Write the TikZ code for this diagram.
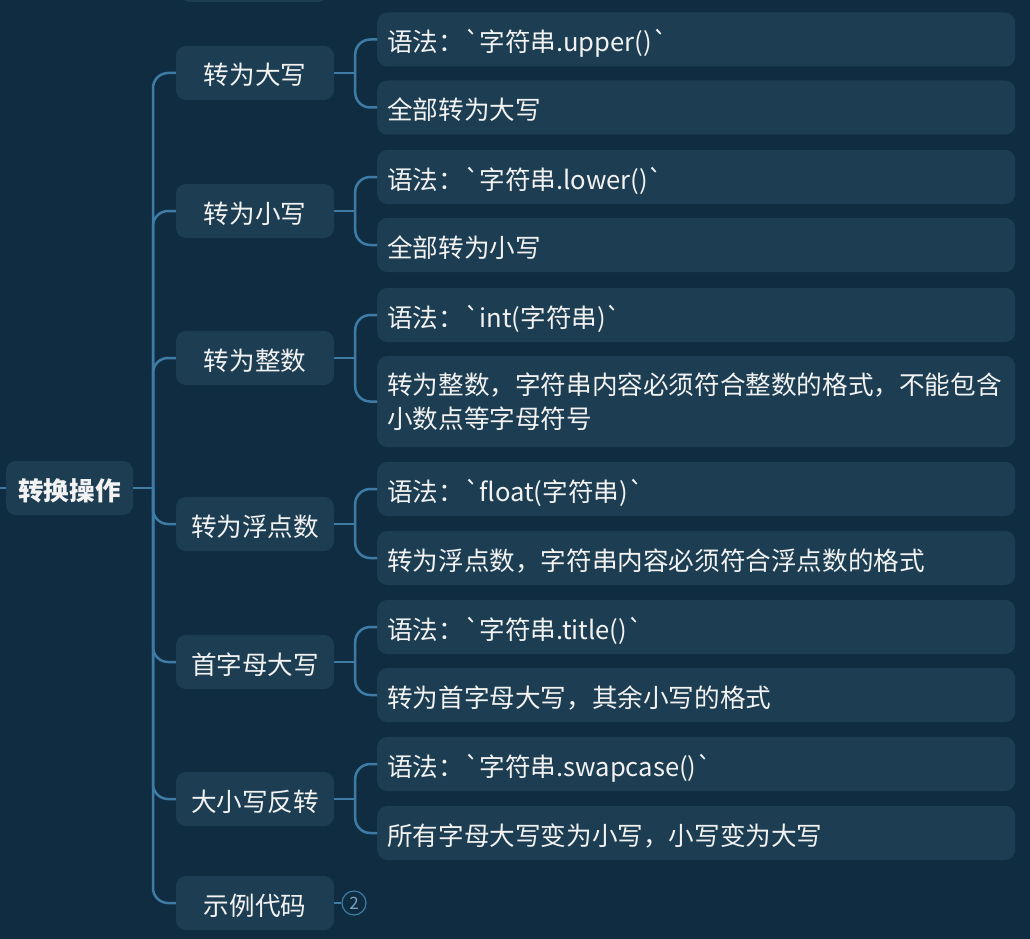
\documentclass[tikz,border=0pt]{standalone}
\usepackage{fontspec}
\setmainfont{Noto Sans CJK SC}[Ligatures=TeXOff]
\usetikzlibrary{positioning}
\definecolor{mapbg}{RGB}{16,44,64}
\definecolor{boxfill}{RGB}{29,62,82}
\definecolor{linkblue}{RGB}{62,124,166}
\definecolor{txtwhite}{RGB}{242,242,242}

\begin{document}
\begin{tikzpicture}[x=1pt,y=-1pt,
    topic/.style={fill=boxfill, rounded corners=10pt, text=txtwhite, inner sep=0pt,
      minimum height=54pt, text height=24pt, text depth=0pt, font=\fontsize{25.6}{34}\selectfont},
    rootbox/.style={topic, minimum width=127pt, font=\fontsize{25.6}{34}\selectfont\bfseries},
    subbox/.style={topic, minimum width=158pt},
    leafbox/.style={topic, anchor=west, text width=618pt, align=left, inner xsep=10pt},
    link/.style={linkblue, line width=2.5pt, rounded corners=15pt}]
  \useasboundingbox[fill=mapbg] (0,0) rectangle (1030,939);
  % piece of the node above, cut by the top edge
  \fill[boxfill, rounded corners=10pt] (180,-40) rectangle (328,2);

  % root and its children
  \node[rootbox] (conv) at (69.5,488) {转换操作};
  \node[subbox] (upper) at (255,73) {转为大写};
  \node[subbox] (lower) at (255,211) {转为小写};
  \node[subbox] (toint) at (255,358) {转为整数};
  \node[subbox] (tofloat) at (255,524) {转为浮点数};
  \node[subbox] (title) at (255,662) {首字母大写};
  \node[subbox] (swap) at (255,799) {大小写反转};
  \node[subbox] (demo) at (255,903) {示例代码};

  % leaves
  \node[leafbox] (uppersyn) at (377,39.5) {语法：`字符串.upper()`};
  \node[leafbox] (upperdesc) at (377,107.5) {全部转为大写};
  \node[leafbox] (lowersyn) at (377,177) {语法：`字符串.lower()`};
  \node[leafbox] (lowerdesc) at (377,245) {全部转为小写};
  \node[leafbox] (intsyn) at (377,315) {语法：`int(字符串)`};
  \node[leafbox, minimum height=91pt, text height=, text depth=] (intdesc) at (377,401.5)
    {转为整数，字符串内容必须符合整数的格式，不能包含\\小数点等字母符号};
  \node[leafbox] (floatsyn) at (377,489) {语法：`float(字符串)`};
  \node[leafbox] (floatdesc) at (377,558) {转为浮点数，字符串内容必须符合浮点数的格式};
  \node[leafbox] (titlesyn) at (377,627) {语法：`字符串.title()`};
  \node[leafbox] (titledesc) at (377,695) {转为首字母大写，其余小写的格式};
  \node[leafbox] (swapsyn) at (377,764) {语法：`字符串.swapcase()`};
  \node[leafbox] (swapdesc) at (377,833) {所有字母大写变为小写，小写变为大写};

  % folded marker
  \node[circle, draw=linkblue, line width=1.2pt, minimum size=24pt, inner sep=0pt,
    text=linkblue!70!white, font=\fontsize{17}{17}\selectfont] (more) at (354,903) {2};

  % connectors
  \draw[link] (0,488) -- (conv.west);
  \coordinate (trunk) at (153,488);
  \draw[link] (conv.east) -- (trunk);
  \foreach \n in {upper,lower,toint,tofloat,title,swap,demo}
    \draw[link] (trunk) |- (\n.west);
  \foreach \n/\a/\b in {upper/uppersyn/upperdesc, lower/lowersyn/lowerdesc,
      toint/intsyn/intdesc, tofloat/floatsyn/floatdesc,
      title/titlesyn/titledesc, swap/swapsyn/swapdesc} {
    \path (\n.east) ++(21,0) coordinate (\n fork);
    \draw[link] (\n.east) -- (\n fork);
    \draw[link] (\n fork) |- (\a.west);
    \draw[link] (\n fork) |- (\b.west);
  }
  \draw[link] (demo.east) -- (more.west);
\end{tikzpicture}
\end{document}
